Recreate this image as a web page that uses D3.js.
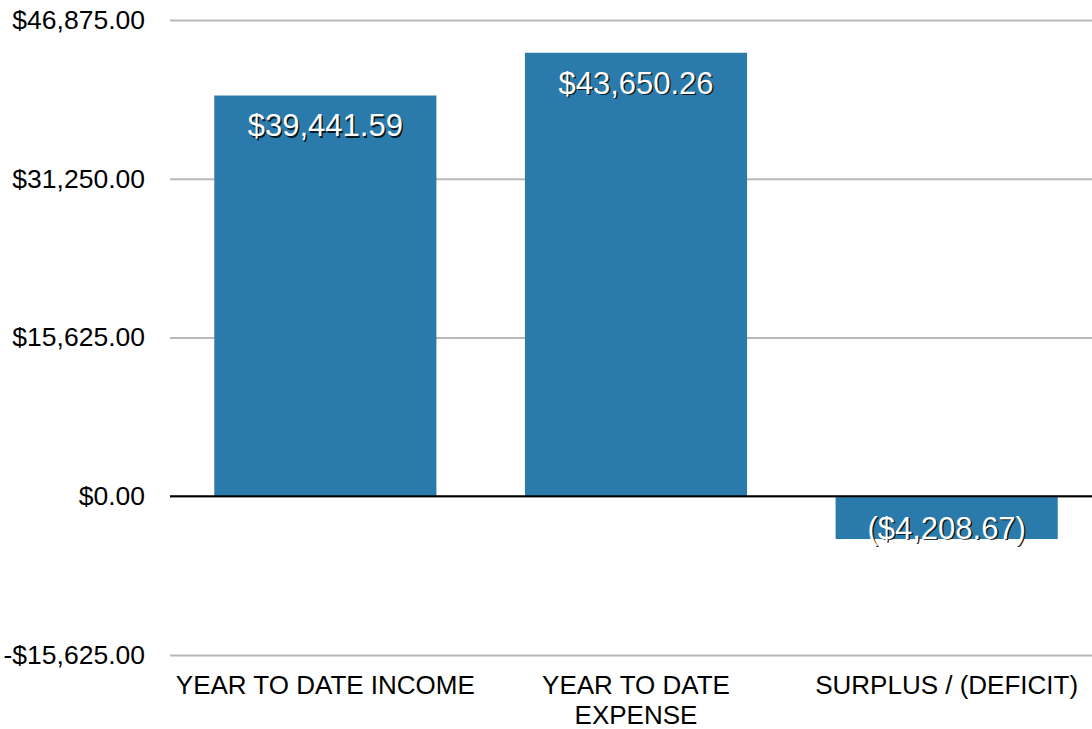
<!DOCTYPE html>
<html>
<head>
<meta charset="utf-8">
<script src="https://cdn.jsdelivr.net/npm/d3@7"></script>
<style>
  html, body { margin: 0; padding: 0; background: #fff; }
  svg { display: block; font-family: "Liberation Sans", Arial, sans-serif; }
</style>
</head>
<body>
<svg id="chart" width="1092" height="729"></svg>
<script>
const categories = ["YEAR TO DATE INCOME", "YEAR TO DATE EXPENSE", "SURPLUS / (DEFICIT)"];
const values = [39441.59, 43650.26, -4208.67];
const tickValues = [-15625, 0, 15625, 31250, 46875];

(function () {
const W = 1092, H = 729;
const mLeft = 170, mRight = 1102, mTop = 20, mBottom = 655;
const svg = d3.select("#chart");

const x = d3.scaleBand().domain(categories).range([mLeft, mRight])
  .paddingInner(0.285).paddingOuter(0.1425);
const y = d3.scaleLinear().domain([-15625, 46875]).range([mBottom, mTop]);

const money = v => {
  const s = d3.format(",.2f")(Math.abs(v));
  return v < 0 ? "-$" + s : "$" + s;
};
const labelFmt = v => {
  const s = "$" + d3.format(",.2f")(Math.abs(v));
  return v < 0 ? "(" + s + ")" : s;
};

// gridlines + y labels
const yAxis = d3.axisLeft(y).tickValues(tickValues).tickSize(-(W - mLeft)).tickFormat(money).tickPadding(25);
const gAxis = svg.append("g").attr("transform", `translate(${mLeft},0)`).call(yAxis);
gAxis.select(".domain").remove();
gAxis.selectAll(".tick line").attr("stroke", "#b8b8b8").attr("stroke-width", 2);
gAxis.selectAll(".tick text").attr("font-size", 26.5).attr("fill", "#000")
  .attr("font-family", "Liberation Sans, Arial, sans-serif");

// bars
svg.append("g").selectAll("rect").data(values).join("rect")
  .attr("x", (d, i) => x(categories[i]))
  .attr("width", x.bandwidth())
  .attr("y", d => y(Math.max(0, d)))
  .attr("height", d => Math.abs(y(d) - y(0)))
  .attr("fill", "#2a7bab");

// zero line
svg.append("line").attr("x1", mLeft).attr("x2", W).attr("y1", y(0)).attr("y2", y(0))
  .attr("stroke", "#000").attr("stroke-width", 2);

// data labels
const defs = svg.append("defs");
defs.append("filter").attr("id", "blur").append("feGaussianBlur").attr("stdDeviation", 0.7);
const labY = d => d >= 0 ? y(d) + 30 : y(d) - 11;
const lab = svg.append("g").attr("font-size", 31).attr("text-anchor", "middle");
lab.selectAll("text.sh").data(values).join("text").attr("class", "sh")
  .attr("x", (d, i) => x(categories[i]) + x.bandwidth() / 2 + 1.5)
  .attr("y", d => labY(d) + 1.5).attr("dy", "0.35em")
  .attr("fill", "rgba(0,0,0,0.8)").attr("filter", "url(#blur)")
  .text(labelFmt);
lab.selectAll("text.fg").data(values).join("text").attr("class", "fg")
  .attr("x", (d, i) => x(categories[i]) + x.bandwidth() / 2)
  .attr("y", d => labY(d)).attr("dy", "0.35em")
  .attr("fill", "#fff")
  .text(labelFmt);

// x labels with wrap
const fs = 26;
const lineH = 29.5;
const xl = svg.append("g").attr("font-size", fs).attr("text-anchor", "middle").attr("fill", "#000");
categories.forEach(c => {
  const cx = x(c) + x.bandwidth() / 2;
  const words = c.split(" ");
  let line = [], lines = [];
  const maxW = x.step();
  const tmp = xl.append("text").attr("font-size", fs);
  words.forEach(w => {
    const test = line.concat([w]).join(" ");
    tmp.text(test);
    if (tmp.node().getComputedTextLength() > maxW && line.length) {
      lines.push(line.join(" "));
      line = [w];
    } else line.push(w);
  });
  lines.push(line.join(" "));
  tmp.remove();
  lines.forEach((l, i) => xl.append("text").attr("x", cx).attr("y", 694 + i * lineH).text(l));
});
})();
</script>
</body>
</html>
